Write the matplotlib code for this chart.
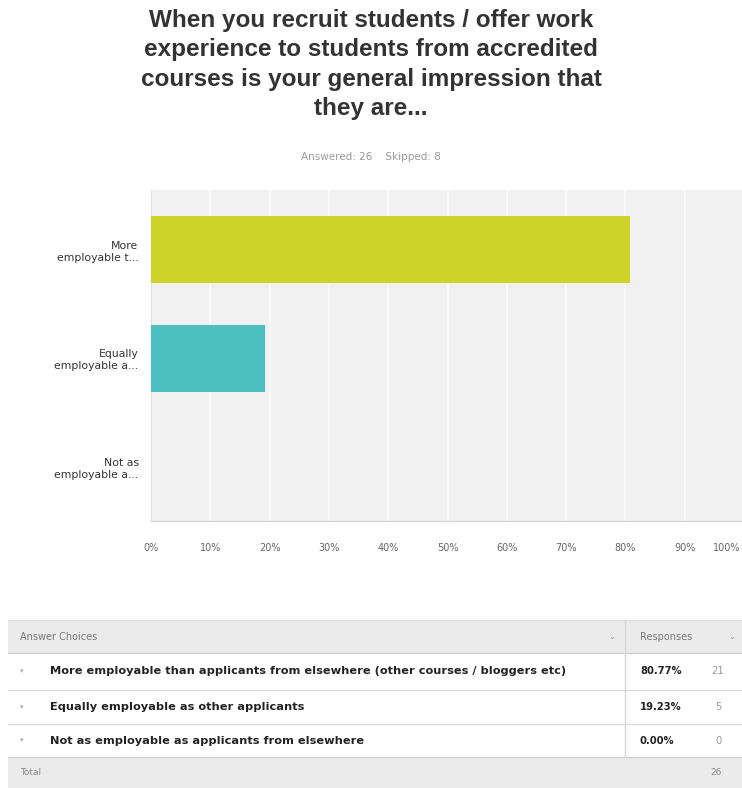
import matplotlib
matplotlib.use("Agg")
import matplotlib.pyplot as plt
from matplotlib.patches import Rectangle
from matplotlib.transforms import ScaledTranslation

# ---- data ----
title = "When you recruit students / offer work\nexperience to students from accredited\ncourses is your general impression that\nthey are..."
subtitle = "Answered: 26    Skipped: 8"
short_labels = ["More\nemployable t...", "Equally\nemployable a...", "Not as\nemployable a..."]
choices = ["More employable than applicants from elsewhere (other courses / bloggers etc)",
           "Equally employable as other applicants",
           "Not as employable as applicants from elsewhere"]
percent = [80.77, 19.23, 0.00]
counts = [21, 5, 0]
total = 26
bar_colors = ["#cdd329", "#4dbfc1", "#f0a030"]
xticks = list(range(0, 101, 10))
xtick_labels = [f"{t}%" for t in xticks]

W, H = 742, 788
fig = plt.figure(figsize=(W / 100, H / 100), dpi=100)
fig.patch.set_facecolor("white")

def fx(px):
    return px / W

def fy(py):
    return 1 - py / H

# title
fig.text(0.5, fy(9), title, ha="center", va="top", fontsize=17.5, fontweight="bold",
         family="Liberation Sans", color="#333333", linespacing=1.36)
fig.text(0.5, fy(157), subtitle, ha="center", va="center", fontsize=7.5, color="#9a9a9a")

# axes
ax_left, ax_right, ax_top, ax_bottom = 151, 744, 190, 521
ax = fig.add_axes([fx(ax_left), fy(ax_bottom), fx(ax_right - ax_left), (ax_bottom - ax_top) / H])
ax.set_facecolor("#f1f1f1")
ypos = list(range(len(percent)))
ax.barh(ypos, percent, height=0.62, color=bar_colors, zorder=3)
ax.set_xlim(0, 100)
ax.set_ylim(2.5, -0.55)
ax.set_xticks(xticks)
ax.set_xticklabels(xtick_labels, fontsize=7, color="#666666")
ax.set_yticks(ypos)
ax.set_yticklabels(short_labels, fontsize=7.8, color="#333333", linespacing=1.25)
ax.tick_params(axis="x", length=0, pad=16)
ax.tick_params(axis="y", length=0, pad=9)
last = ax.get_xticklabels()[-1]
last.set_ha("right")
last.set_transform(last.get_transform() + ScaledTranslation(-4 / 100, 0, fig.dpi_scale_trans))
ax.grid(axis="x", color="#fafafa", linewidth=1.2, zorder=0)
ax.set_axisbelow(True)
for s in ["top", "right"]:
    ax.spines[s].set_visible(False)
ax.spines["bottom"].set_color("#cfcfcf")
ax.spines["left"].set_color("#e2e2e2")

# ---- table ----
tx0, tx1, tdiv = 8, 742, 625
header_top, header_bot = 620, 653
row_bounds = [653, 690, 724, 757]
total_bot = 788

def rect(x0, y0, x1, y1, color):
    fig.add_artist(Rectangle((fx(x0), fy(y1)), fx(x1 - x0), (y1 - y0) / H,
                             transform=fig.transFigure, facecolor=color, edgecolor="none"))

def hline(y, x0=tx0, x1=tx1, color="#dcdcdc"):
    fig.add_artist(plt.Line2D([fx(x0), fx(x1)], [fy(y), fy(y)], transform=fig.transFigure,
                              color=color, lw=1))

rect(tx0, header_top, tx1, header_bot, "#ebebeb")
rect(tx0, row_bounds[-1], tx1, total_bot, "#ebebeb")
hline(header_top)
hline(header_bot, color="#d0d0d0")
for yb in row_bounds[1:-1]:
    hline(yb)
hline(row_bounds[-1], color="#d0d0d0")
fig.add_artist(plt.Line2D([fx(tdiv), fx(tdiv)], [fy(header_top), fy(row_bounds[-1])],
                          transform=fig.transFigure, color="#d8d8d8", lw=1))

hy = (header_top + header_bot) / 2
fig.text(fx(20), fy(hy), "Answer Choices", ha="left", va="center", fontsize=7, color="#777777")
fig.text(fx(612), fy(hy), "⌄", ha="center", va="center", fontsize=6, color="#999999")
fig.text(fx(640), fy(hy), "Responses", ha="left", va="center", fontsize=7, color="#777777")
fig.text(fx(732), fy(hy), "⌄", ha="center", va="center", fontsize=6, color="#999999")

for i, (c, p, n) in enumerate(zip(choices, percent, counts)):
    yc = (row_bounds[i] + row_bounds[i + 1]) / 2
    fig.text(fx(22), fy(yc), "▾", ha="center", va="center", fontsize=5, color="#aaaaaa")
    fig.text(fx(50), fy(yc), c, ha="left", va="center", fontsize=8.2, color="#222222",
             fontweight="bold", family="DejaVu Sans")
    fig.text(fx(640), fy(yc), f"{p:.2f}%", ha="left", va="center", fontsize=7.2,
             color="#222222", fontweight="bold", family="DejaVu Sans")
    fig.text(fx(718), fy(yc), f"{n}", ha="center", va="center", fontsize=7.2, color="#999999",
             family="DejaVu Sans")

ty = (row_bounds[-1] + total_bot) / 2
fig.text(fx(20), fy(ty), "Total", ha="left", va="center", fontsize=6.5, color="#888888")
fig.text(fx(716), fy(ty), f"{total}", ha="center", va="center", fontsize=6.5, color="#888888")

fig.savefig("out.png", dpi=100, facecolor="white")
